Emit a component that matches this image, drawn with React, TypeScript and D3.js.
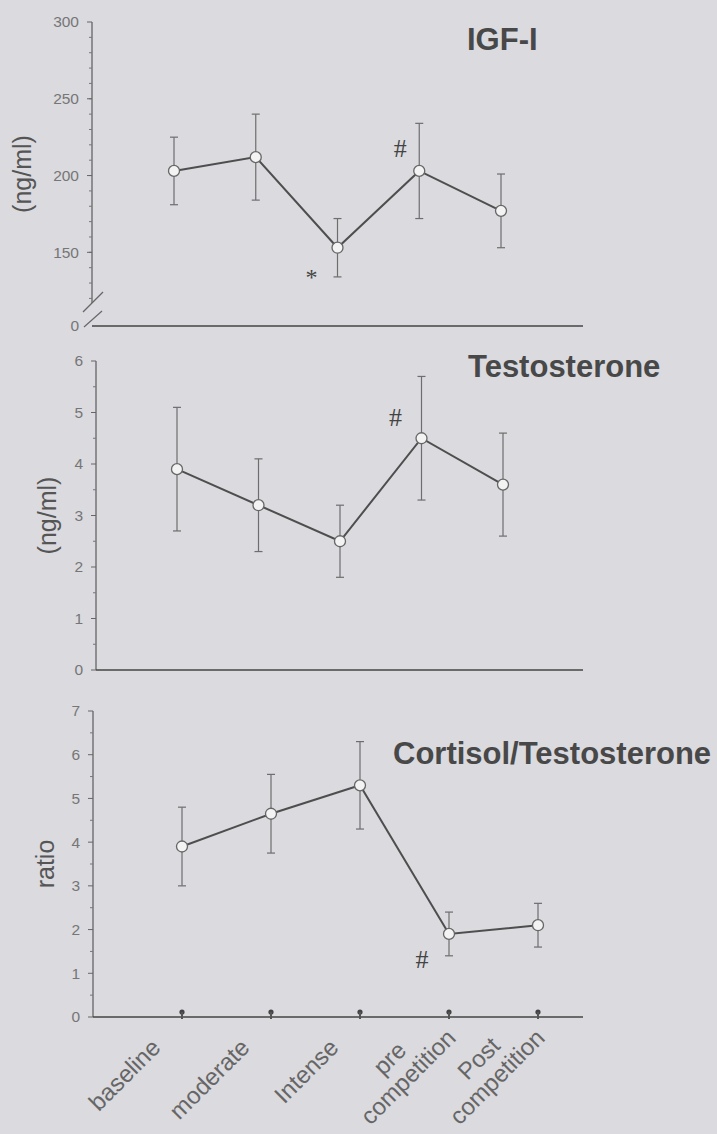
import * as d3 from 'd3'

const categoryLines = [['baseline'], ['moderate'], ['Intense'], ['pre', 'competition'], ['Post', 'competition']]
const categories = categoryLines.map((l) => l.join(' '))

// IGF-I (ng/ml)
const igfMean = [203, 212, 153, 203, 177]
const igfSd = [22, 28, 19, 31, 24]
const igfTicks = [150, 200, 250, 300]

// Testosterone (ng/ml)
const testoMean = [3.9, 3.2, 2.5, 4.5, 3.6]
const testoSd = [1.2, 0.9, 0.7, 1.2, 1.0]
const testoTicks = [0, 1, 2, 3, 4, 5, 6]

// Cortisol/Testosterone ratio
const ratioMean = [3.9, 4.65, 5.3, 1.9, 2.1]
const ratioSd = [0.9, 0.9, 1.0, 0.5, 0.5]
const ratioTicks = [0, 1, 2, 3, 4, 5, 6, 7]

const W = 717
const H = 1134
const BG = '#dadadf'
const SANS = '"Liberation Sans", Arial, sans-serif'

interface Note { cat: number; sym: string; dx: number; dy: number }

interface PanelProps {
  mean: number[]
  sd: number[]
  y: d3.ScaleLinear<number, number>
  xRange: [number, number]
  axisX: number
  axisEnd: number
  yTop: number
  yBottom: number
  ticks: number[]
  minor: number[]
  zeroLabel?: boolean
  title: string
  titleX: number
  titleY: number
  yLabel: string
  yLabelX: number
  notes: Note[]
  catMarks?: boolean
  xLabels?: boolean
  brk?: boolean
}

let ctx: CanvasRenderingContext2D | null = null
function measure(s: string, font: string) {
  if (!ctx) ctx = document.createElement('canvas').getContext('2d')
  if (!ctx) return s.length * 11
  ctx.font = font
  return ctx.measureText(s).width
}

function Panel(p: PanelProps) {
  const x = d3.scalePoint<string>().domain(categories).range(p.xRange)
  const y = p.y
  const zeroY = y(0)
  const line = d3
    .line<number>()
    .x((_, i) => x(categories[i]) as number)
    .y((d) => y(d))
  const yMid = (y(p.yTop) + zeroY) / 2
  const labelFont = `24px ${SANS}`
  const lh = 26
  const s2 = Math.SQRT1_2

  return (
    <g>
      {/* y axis */}
      <line x1={p.axisX} x2={p.axisX} y1={y(p.yTop)} y2={y(p.yBottom)} stroke="#5c5c5c" strokeWidth={1.2} />
      {p.minor.map((t) => (
        <line key={'m' + t} x1={p.axisX - 3} x2={p.axisX} y1={y(t)} y2={y(t)} stroke="#777" strokeWidth={1} />
      ))}
      {p.ticks.map((t) => (
        <g key={'t' + t}>
          <line x1={p.axisX - 5} x2={p.axisX} y1={y(t)} y2={y(t)} stroke="#666" strokeWidth={1} />
          <text x={p.axisX - 13} y={y(t)} dy="0.35em" textAnchor="end" fontFamily={SANS} fontSize={15.5} fill="#767676">
            {t}
          </text>
        </g>
      ))}
      {p.zeroLabel && (
        <text x={p.axisX - 13} y={zeroY} dy="0.35em" textAnchor="end" fontFamily={SANS} fontSize={15.5} fill="#767676">
          0
        </text>
      )}
      {p.brk && (
        <g stroke="#666" strokeWidth={1.2}>
          <line x1={p.axisX - 9} x2={p.axisX + 11} y1={y(p.yBottom) + 9} y2={y(p.yBottom) - 11} />
          <line x1={p.axisX - 8} x2={p.axisX + 10} y1={zeroY + 1} y2={zeroY - 15} />
        </g>
      )}
      {/* x axis */}
      <line x1={p.axisX} x2={p.axisEnd} y1={zeroY} y2={zeroY} stroke="#454545" strokeWidth={1.5} />
      {p.catMarks &&
        categories.map((c) => (
          <g key={'cm' + c}>
            <circle cx={x(c)} cy={zeroY - 5} r={2.6} fill="#444" />
            <line x1={x(c)} x2={x(c)} y1={zeroY - 5} y2={zeroY + 2} stroke="#555" strokeWidth={2} />
          </g>
        ))}
      {/* error bars */}
      {p.mean.map((m, i) => {
        const cx = x(categories[i]) as number
        const hi = y(m + p.sd[i])
        const lo = y(m - p.sd[i])
        return (
          <g key={'e' + i} stroke="#6e6e6e" strokeWidth={1.2}>
            <line x1={cx} x2={cx} y1={hi} y2={lo} />
            <line x1={cx - 4} x2={cx + 4} y1={hi} y2={hi} />
            <line x1={cx - 4} x2={cx + 4} y1={lo} y2={lo} />
          </g>
        )
      })}
      <path d={line(p.mean) ?? ''} fill="none" stroke="#4e4e4e" strokeWidth={2} />
      {p.mean.map((m, i) => (
        <circle key={'c' + i} cx={x(categories[i])} cy={y(m)} r={5.5} fill="#f3f3f3" stroke="#666" strokeWidth={1.3} />
      ))}
      {p.notes.map((n, i) => (
        <text
          key={'n' + i}
          x={(x(categories[n.cat]) as number) + n.dx}
          y={y(p.mean[n.cat]) + n.dy}
          dy="0.35em"
          textAnchor="middle"
          fontFamily='"Liberation Serif", serif'
          fontSize={n.sym === '*' ? 24 : 26}
          fill="#444"
        >
          {n.sym}
        </text>
      ))}
      <text x={p.titleX} y={p.titleY} fontFamily={SANS} fontWeight="bold" fontSize={31} fill="#484848">
        {p.title}
      </text>
      <text
        transform={`translate(${p.yLabelX},${yMid}) rotate(-90)`}
        dy="0.35em"
        textAnchor="middle"
        fontFamily={SANS}
        fontSize={25}
        fill="#555"
      >
        {p.yLabel}
      </text>
      {p.xLabels &&
        categoryLines.map((lines, ci) => {
          const cx = x(categories[ci]) as number
          const widths = lines.map((l) => measure(l, labelFont))
          const maxW = Math.max(...widths)
          const multi = lines.length > 1
          const ax = cx + (multi ? -1 : -20)
          const ay = zeroY + (multi ? 13 : 32)
          return (
            <g key={'xl' + ci}>
              {lines.map((l, li) => {
                const perp = (li - (lines.length - 1) / 2) * lh
                const along = -maxW / 2
                const px = ax + along * s2 + perp * s2
                const py = ay - along * s2 + perp * s2
                return (
                  <text
                    key={li}
                    transform={`translate(${px},${py}) rotate(-45)`}
                    textAnchor="middle"
                    fontFamily={SANS}
                    fontSize={24}
                    fill="#666"
                  >
                    {l}
                  </text>
                )
              })}
            </g>
          )
        })}
    </g>
  )
}

export default function App() {
  const yIgf = d3.scaleLinear().domain([0, 117, 300]).range([326, 303, 22])
  const yTesto = d3.scaleLinear().domain([0, 6]).range([670, 361])
  const yRatio = d3.scaleLinear().domain([0, 7]).range([1017, 711])

  return (
    <div style={{ position: 'absolute', left: 0, top: 0 }}>
      <svg width={W} height={H} style={{ display: 'block' }}>
        <rect width={W} height={H} fill={BG} />
        <Panel
          mean={igfMean}
          sd={igfSd}
          y={yIgf}
          xRange={[174, 501]}
          axisX={92}
          axisEnd={583}
          yTop={300}
          yBottom={117}
          ticks={igfTicks}
          minor={d3.range(120, 300, 10)}
          zeroLabel
          brk
          title="IGF-I"
          titleX={467}
          titleY={50}
          yLabel="(ng/ml)"
          yLabelX={22}
          notes={[
            { cat: 2, sym: '*', dx: -26, dy: 29 },
            { cat: 3, sym: '#', dx: -19, dy: -23 },
          ]}
        />
        <Panel
          mean={testoMean}
          sd={testoSd}
          y={yTesto}
          xRange={[177, 503]}
          axisX={96}
          axisEnd={583}
          yTop={6}
          yBottom={0}
          ticks={testoTicks}
          minor={d3.range(0.5, 6, 1)}
          title="Testosterone"
          titleX={468}
          titleY={377}
          yLabel="(ng/ml)"
          yLabelX={47}
          notes={[{ cat: 3, sym: '#', dx: -26, dy: -21 }]}
        />
        <Panel
          mean={ratioMean}
          sd={ratioSd}
          y={yRatio}
          xRange={[182, 538]}
          axisX={93}
          axisEnd={583}
          yTop={7}
          yBottom={0}
          ticks={ratioTicks}
          minor={d3.range(0.5, 7, 1)}
          title="Cortisol/Testosterone"
          titleX={393}
          titleY={764}
          yLabel="ratio"
          yLabelX={45}
          notes={[{ cat: 3, sym: '#', dx: -27, dy: 25 }]}
          catMarks
          xLabels
        />
      </svg>
    </div>
  )
}
